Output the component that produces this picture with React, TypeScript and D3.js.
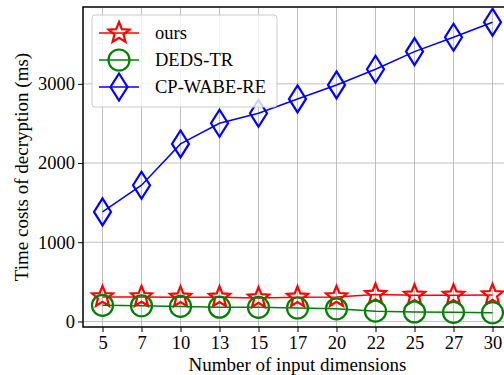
import React, { useRef, useEffect } from 'react';
import * as d3 from 'd3';

const dims = ['5', '7', '10', '13', '15', '17', '20', '22', '25', '27', '30'];
const ours = [310, 310, 305, 305, 295, 305, 310, 340, 330, 330, 335];
const dedsTr = [204, 198, 190, 180, 178, 170, 160, 130, 120, 115, 110];
const cpWabeRe = [1383, 1720, 2241, 2502, 2629, 2809, 2986, 3184, 3407, 3588, 3778];
const yTicks = [0, 1000, 2000, 3000];

const starPath = (r: number, ri: number) => {
  const pts: [number, number][] = [];
  for (let i = 0; i < 10; i++) {
    const a = (Math.PI / 5) * i - Math.PI / 2;
    const rr = i % 2 === 0 ? r : ri;
    pts.push([rr * Math.cos(a), rr * Math.sin(a)]);
  }
  return 'M' + pts.map((p) => p.join(',')).join('L') + 'Z';
};

const markers: Record<string, string> = {
  star: starPath(11, 4.8),
  circle: d3.arc()({ innerRadius: 0, outerRadius: 10.5, startAngle: 0, endAngle: 2 * Math.PI }) as string,
  diamond: 'M0,-13.5L8.5,0L0,13.5L-8.5,0Z',
};

const series = [
  { name: 'ours', values: ours, color: '#ff0000', marker: 'star' },
  { name: 'DEDS-TR', values: dedsTr, color: '#008000', marker: 'circle' },
  { name: 'CP-WABE-RE', values: cpWabeRe, color: '#0000ff', marker: 'diamond' },
];

export default function App() {
  const ref = useRef<SVGSVGElement>(null);

  useEffect(() => {
    const svg = d3.select(ref.current);
    svg.selectAll('*').remove();
    const left = 83, right = 512, top = 7, bottom = 327;
    const font = '"Liberation Serif", "Times New Roman", serif';

    const x = d3.scalePoint<string>().domain(dims).range([left, right]).padding(0.5);
    const y = d3.scaleLinear().domain([-70, 3970]).range([bottom, top]);

    const g = svg.append('g').style('font-family', font);

    // grid
    g.selectAll('.gx').data(dims).enter().append('line')
      .attr('x1', (d) => x(d)!).attr('x2', (d) => x(d)!)
      .attr('y1', top).attr('y2', bottom)
      .attr('stroke', '#b0b0b0').attr('stroke-width', 0.8);
    g.selectAll('.gy').data(yTicks).enter().append('line')
      .attr('x1', left).attr('x2', right)
      .attr('y1', (d) => y(d)).attr('y2', (d) => y(d))
      .attr('stroke', '#b0b0b0').attr('stroke-width', 0.8);

    // axes
    const xAxis = g.append('g').attr('transform', `translate(0,${bottom})`)
      .call(d3.axisBottom(x).tickSize(5).tickPadding(4));
    const yAxis = g.append('g').attr('transform', `translate(${left},0)`)
      .call(d3.axisLeft(y).tickValues(yTicks).tickSize(5).tickPadding(3).tickFormat(d3.format('d')));
    [xAxis, yAxis].forEach((a) => {
      a.attr('font-family', null).attr('font-size', null);
      a.select('.domain').remove();
      a.selectAll('line').attr('stroke', '#000').attr('stroke-width', 1);
      a.selectAll('text')
        .style('font-family', font).style('font-size', '18.5px').attr('fill', '#000');
    });

    // spines
    g.append('rect').attr('x', left).attr('y', top)
      .attr('width', right - left).attr('height', bottom - top)
      .attr('fill', 'none').attr('stroke', '#000').attr('stroke-width', 1.5);

    // series
    series.forEach((s) => {
      const line = d3.line<number>().x((_, i) => x(dims[i])!).y((d) => y(d));
      g.append('path').datum(s.values).attr('d', line)
        .attr('fill', 'none').attr('stroke', s.color).attr('stroke-width', 1.5);
      g.selectAll(null).data(s.values).enter().append('path')
        .attr('d', markers[s.marker])
        .attr('transform', (d, i) => `translate(${x(dims[i])},${y(d)})`)
        .attr('fill', 'none').attr('stroke', s.color).attr('stroke-width', 2.2);
    });

    // legend
    const lg = g.append('g');
    lg.append('rect').attr('x', 92).attr('y', 15).attr('width', 185).attr('height', 92)
      .attr('rx', 3).attr('fill', 'white').attr('fill-opacity', 0.8)
      .attr('stroke', '#cccccc').attr('stroke-width', 1);
    series.forEach((s, i) => {
      const ly = 33 + i * 27;
      lg.append('line').attr('x1', 99).attr('x2', 139).attr('y1', ly).attr('y2', ly)
        .attr('stroke', s.color).attr('stroke-width', 1.5);
      lg.append('path').attr('d', markers[s.marker])
        .attr('transform', `translate(119,${ly})`)
        .attr('fill', 'none').attr('stroke', s.color).attr('stroke-width', 2.2);
      lg.append('text').attr('x', 155).attr('y', ly).attr('dy', '0.35em')
        .style('font-size', '18.5px').text(s.name);
    });

    // axis labels
    g.append('text').attr('x', (left + right) / 2).attr('y', 371)
      .attr('text-anchor', 'middle').style('font-size', '19px')
      .text('Number of input dimensions');
    g.append('text').attr('transform', `translate(28,${(top + bottom) / 2}) rotate(-90)`)
      .attr('text-anchor', 'middle').style('font-size', '19px')
      .text('Time costs of decryption (ms)');
  }, []);

  return (
    <svg ref={ref} width={504} height={375}
      style={{ position: 'absolute', left: 0, top: 0, background: 'white' }} />
  );
}
